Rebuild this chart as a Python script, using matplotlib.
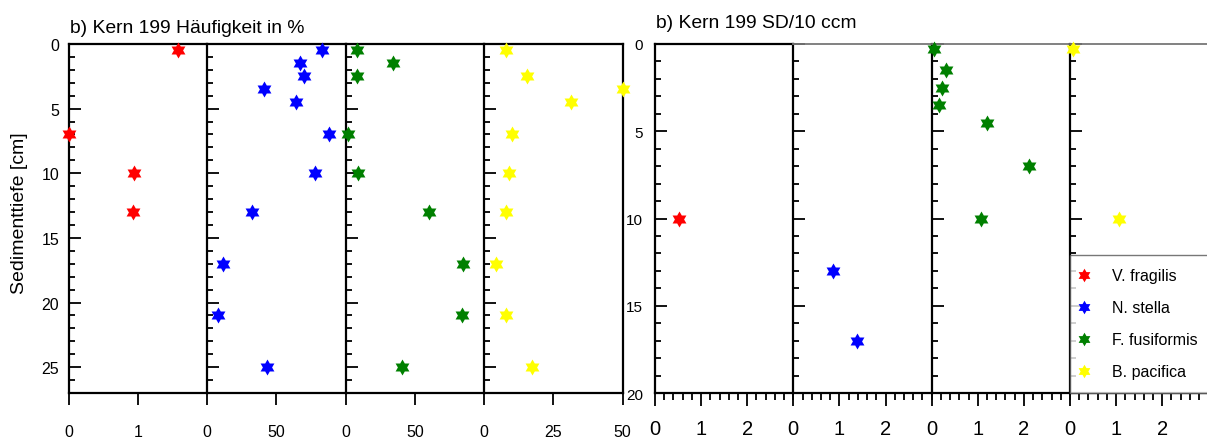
import numpy as np
import matplotlib
matplotlib.use('Agg')
import matplotlib.pyplot as plt
from matplotlib.path import Path
from matplotlib.ticker import MultipleLocator, FixedLocator
from matplotlib.lines import Line2D

plt.rcParams['font.family'] = ['Liberation Sans', 'DejaVu Sans']

# ---------------- data ----------------
species = ['V. fragilis', 'N. stella', 'F. fusiformis', 'B. pacifica']
colors = ['#ff0000', '#0000ff', '#008000', '#ffff00']

# Häufigkeit in %
pct_depth_vf = [0.5, 7, 10, 13]
pct_vf = [1.57, 0.0, 0.94, 0.93]
pct_depth_ns = [0.5, 1.5, 2.5, 3.5, 4.5, 7, 10, 13, 17, 21, 25]
pct_ns = [83, 67, 70, 41, 64, 88, 78, 32, 11, 8, 43]
pct_depth_ff = [0.5, 1.5, 2.5, 7, 10, 13, 17, 21, 25]
pct_ff = [8, 34, 8, 2, 9, 60, 85, 84, 41]
pct_depth_bp = [0.5, 2.5, 3.5, 4.5, 7, 10, 13, 17, 21, 25]
pct_bp = [8, 15.5, 50, 31.5, 10, 9, 8, 4.5, 8, 17.5]

# SD/10 ccm
sd_depth_vf = [10]
sd_vf = [0.53]
sd_depth_ns = [13, 17]
sd_ns = [0.86, 1.38]
sd_depth_ff = [0.3, 1.5, 2.5, 3.5, 4.5, 7, 10]
sd_ff = [0.06, 0.32, 0.23, 0.16, 1.19, 2.12, 1.06]
sd_depth_bp = [0.3, 10]
sd_bp = [0.07, 1.07]

pct_xmax = [2, 100, 100, 50]
pct_xticks = [[0, 1], [0, 50], [0, 50], [0, 25, 50]]
pct_ymax = 27
sd_xmax = 3
sd_xticks = [0, 1, 2]
sd_ymax = 20

title_pct = 'b) Kern 199 Häufigkeit in %'
title_sd = 'b) Kern 199 SD/10 ccm'
ylabel = 'Sedimenttiefe [cm]'

# ---------------- marker: six-pointed star ----------------
k = np.arange(12)
ang = np.pi / 2 + k * np.pi / 6
rad = np.where(k % 2 == 0, 1.0, 1 / np.sqrt(3))
verts = np.column_stack([rad * np.cos(ang), rad * np.sin(ang)])
star = Path(np.vstack([verts, verts[:1]]), closed=True)

# ---------------- layout ----------------
W, H = 1207, 439
fig = plt.figure(figsize=(W / 100, H / 100), dpi=100)

def px_axes(x0, x1, y0=45, y1=394):
    return fig.add_axes([x0 / W, 1 - y1 / H, (x1 - x0) / W, (y1 - y0) / H])

left_edges = [69, 207.3, 345.6, 484, 622.5]
right_edges = [655, 793.3, 931.7, 1070, 1208.3]

pct_data = [(pct_vf, pct_depth_vf), (pct_ns, pct_depth_ns),
            (pct_ff, pct_depth_ff), (pct_bp, pct_depth_bp)]
sd_data = [(sd_vf, sd_depth_vf), (sd_ns, sd_depth_ns),
           (sd_ff, sd_depth_ff), (sd_bp, sd_depth_bp)]

MS = 11.5
LW = 1.6

def style_axes(ax, ymax, first, yfs, ypad):
    ax.set_ylim(ymax, 0)
    ax.yaxis.set_major_locator(MultipleLocator(5))
    ax.yaxis.set_minor_locator(MultipleLocator(1))
    ax.tick_params(axis='y', which='major', direction='in', length=8.6,
                   width=1.3, labelsize=yfs, pad=ypad, labelleft=first)
    ax.tick_params(axis='y', which='minor', direction='in', length=4.3, width=1.3)
    for s in ['left', 'top', 'bottom']:
        ax.spines[s].set_linewidth(LW)
        ax.spines[s].set_color('black')
    ax.spines['right'].set_visible(False)

# left group
for i in range(4):
    ax = px_axes(left_edges[i], left_edges[i + 1])
    style_axes(ax, pct_ymax, i == 0, 11.5, 7)
    ax.set_xlim(0, pct_xmax[i])
    ax.xaxis.set_major_locator(FixedLocator(pct_xticks[i]))
    ax.tick_params(axis='x', which='major', direction='out', length=8.6,
                   width=1.3, labelsize=11.5, pad=14)
    x, d = pct_data[i]
    ax.plot(x, d, linestyle='none', marker=star, markersize=MS,
            color=colors[i], markeredgewidth=0, clip_on=False, zorder=5)
    if i == 3:
        ax.spines['right'].set_visible(True)
        ax.spines['right'].set_linewidth(LW)

# right group
for i in range(4):
    ax = px_axes(right_edges[i], right_edges[i + 1])
    style_axes(ax, sd_ymax, i == 0, 11, 8.6)
    ax.set_xlim(0, sd_xmax)
    ax.xaxis.set_major_locator(FixedLocator(sd_xticks))
    ax.xaxis.set_minor_locator(MultipleLocator(0.2))
    ax.tick_params(axis='x', which='major', direction='out', length=9,
                   width=1.3, labelsize=14.5, pad=10)
    ax.tick_params(axis='x', which='minor', direction='out', length=5, width=1.3)
    if i > 0:
        ax.spines['top'].set_color('#777777')
        ax.spines['top'].set_linewidth(1.3)
    x, d = sd_data[i]
    ax.plot(x, d, linestyle='none', marker=star, markersize=MS,
            color=colors[i], markeredgewidth=0, clip_on=False, zorder=5)
    if i == 3:
        handles = [Line2D([], [], linestyle='none', marker=star, markersize=MS,
                          color=c, markeredgewidth=0) for c in colors]
        leg = ax.legend(handles, species, loc='lower left',
                        bbox_to_anchor=(0, 0, 1, 1), mode='expand',
                        borderaxespad=0, fancybox=False, frameon=True,
                        edgecolor='#555555', fontsize=11.5, markerscale=0.85,
                        handlelength=0.0, borderpad=0.85, handletextpad=1.8,
                        labelspacing=1.07)
        leg.get_frame().set_linewidth(1.0)

# titles and label
fig.text(70 / W, 1 - 33 / H, title_pct, fontsize=13.9, va='baseline', ha='left')
fig.text(656 / W, 1 - 27.7 / H, title_sd, fontsize=13.9, va='baseline', ha='left')
fig.text(20 / W, 1 - 213 / H, ylabel, fontsize=14, rotation=90,
         ha='center', va='center')

fig.savefig('out.png', dpi=100)
